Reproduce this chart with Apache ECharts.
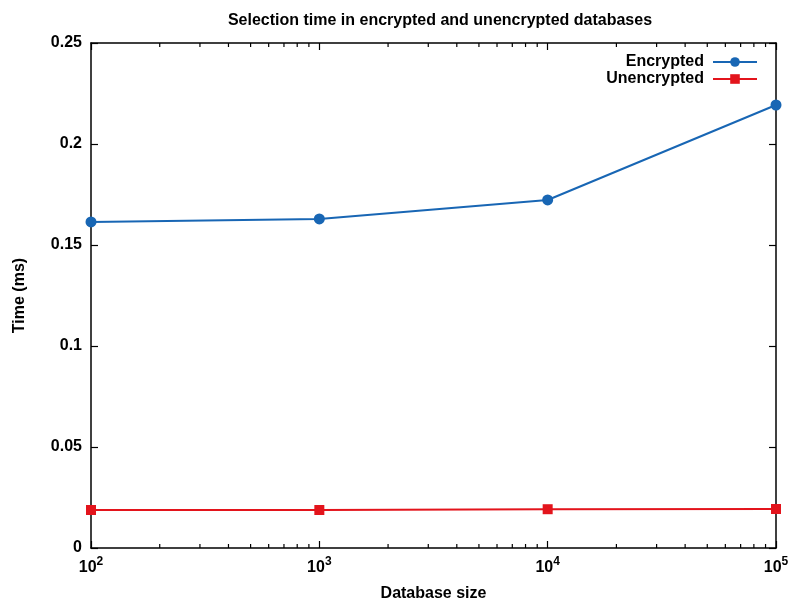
<!DOCTYPE html>
<html><head><meta charset="utf-8">
<script src="https://cdn.jsdelivr.net/npm/echarts@6/dist/echarts.min.js"></script>
<style>html,body{margin:0;padding:0;background:#fff}#c{width:790px;height:601px}</style>
</head><body><div id="c"></div>
<script>
const sizes = [100, 1000, 10000, 100000];
const encrypted = [0.1614, 0.1629, 0.1723, 0.2193];
const unencrypted = [0.0188, 0.0188, 0.0192, 0.0193];
const minorMultipliers = [2, 3, 4, 5, 6, 7, 8, 9];
const decades = [100, 1000, 10000];

const FONT = '"Liberation Sans", Arial, sans-serif';
const BLUE = '#1866b4';
const RED = '#e3141c';

const chart = echarts.init(document.getElementById('c'), null, {renderer: 'canvas'});

const xLabel = {
  fontFamily: FONT, margin: 8,
  formatter: v => '{b|10}{s|' + Math.round(Math.log10(v)) + '}',
  rich: {
    b: {fontFamily: FONT, fontWeight: 'bold', fontSize: 16, color: '#000', lineHeight: 20, verticalAlign: 'bottom'},
    s: {fontFamily: FONT, fontWeight: 'bold', fontSize: 12, color: '#000', lineHeight: 20, verticalAlign: 'top'}
  }
};
const mkLine = () => ({show: true, onZero: false, lineStyle: {color: '#000', width: 1.5}});
const mkTick = () => ({show: true, inside: true, length: 7, lineStyle: {color: '#000', width: 1.2}});

const option = {
  animation: false,
  backgroundColor: '#fff',
  title: {
    text: 'Selection time in encrypted and unencrypted databases',
    left: 435, top: 8, textAlign: 'center',
    textStyle: {fontFamily: FONT, fontWeight: 'bold', fontSize: 16, color: '#000'}
  },
  legend: [
    {data: ['Encrypted'], right: 27, top: 49, orient: 'vertical', align: 'right',
     itemWidth: 44, itemHeight: 12,
     textStyle: {fontFamily: FONT, fontWeight: 'bold', fontSize: 16, color: '#000', padding: [0, 4, 0, 0]}},
    {data: ['Unencrypted'], right: 27, top: 66, orient: 'vertical', align: 'right',
     itemWidth: 44, itemHeight: 12,
     textStyle: {fontFamily: FONT, fontWeight: 'bold', fontSize: 16, color: '#000', padding: [0, 4, 0, 0]}}
  ],
  grid: {left: 91, right: 14, top: 43, bottom: 53, containLabel: false, outerBoundsMode: 'none'},
  xAxis: [
    {type: 'log', logBase: 10, min: 100, max: 100000, position: 'bottom',
     name: 'Database size', nameLocation: 'middle', nameGap: 38,
     nameTextStyle: {fontFamily: FONT, fontWeight: 'bold', fontSize: 16, color: '#000'},
     axisLine: mkLine(), axisTick: mkTick(), axisLabel: xLabel, splitLine: {show: false}},
    {type: 'log', logBase: 10, min: 100, max: 100000, position: 'top',
     axisLine: mkLine(), axisTick: mkTick(), axisLabel: {show: false}, splitLine: {show: false}}
  ],
  yAxis: [
    {type: 'value', min: 0, max: 0.25, interval: 0.05, position: 'left',
     name: 'Time (ms)', nameLocation: 'middle', nameGap: 63, nameRotate: 90,
     nameTextStyle: {fontFamily: FONT, fontWeight: 'bold', fontSize: 16, color: '#000'},
     axisLine: mkLine(), axisTick: mkTick(),
     axisLabel: {fontFamily: FONT, fontWeight: 'bold', fontSize: 16, color: '#000', margin: 9},
     splitLine: {show: false}},
    {type: 'value', min: 0, max: 0.25, interval: 0.05, position: 'right',
     axisLine: mkLine(), axisTick: mkTick(), axisLabel: {show: false}, splitLine: {show: false}}
  ],
  series: [
    {name: 'Encrypted', type: 'line', xAxisIndex: 0, yAxisIndex: 0,
     data: sizes.map((s, i) => [s, encrypted[i]]),
     symbol: 'circle', symbolSize: 11, showAllSymbol: true,
     lineStyle: {color: BLUE, width: 2}, itemStyle: {color: BLUE}},
    {name: 'Unencrypted', type: 'line', xAxisIndex: 0, yAxisIndex: 0,
     data: sizes.map((s, i) => [s, unencrypted[i]]),
     symbol: 'rect', symbolSize: 10, showAllSymbol: true,
     lineStyle: {color: RED, width: 2}, itemStyle: {color: RED}}
  ]
};
chart.setOption(option);

// minor log ticks on bottom and top axes, positioned through the axis scale
const yBottom = chart.convertToPixel({yAxisIndex: 0}, 0);
const yTop = chart.convertToPixel({yAxisIndex: 0}, 0.25);
const g = [];
decades.forEach(d => {
  minorMultipliers.forEach(m => {
    const x = chart.convertToPixel({xAxisIndex: 0}, d * m);
    g.push({type: 'line', shape: {x1: x, y1: yBottom, x2: x, y2: yBottom - 4},
            style: {stroke: '#000', lineWidth: 1.2}, silent: true});
    g.push({type: 'line', shape: {x1: x, y1: yTop, x2: x, y2: yTop + 4},
            style: {stroke: '#000', lineWidth: 1.2}, silent: true});
  });
});
chart.setOption({graphic: g});
</script>
</body></html>
